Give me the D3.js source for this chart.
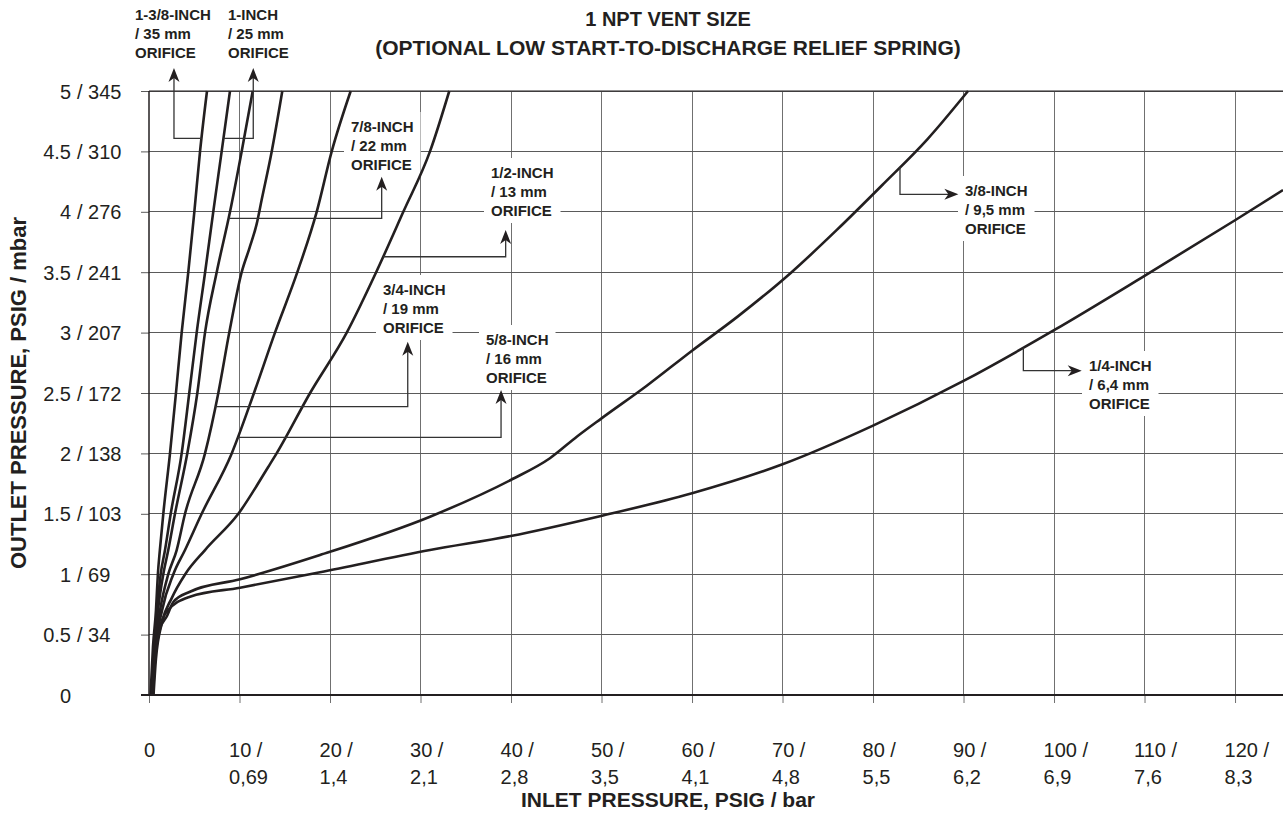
<!DOCTYPE html>
<html>
<head>
<meta charset="utf-8">
<script src="https://cdn.jsdelivr.net/npm/d3@7"></script>
<style>
  body { margin: 0; background: #fff; }
  svg { display: block; font-family: "Liberation Sans", Arial, Helvetica, sans-serif; }
</style>
</head>
<body>
<script>
// axis ticks: psig with metric companion
const inletTicks = [0, 10, 20, 30, 40, 50, 60, 70, 80, 90, 100, 110, 120];
const inletBar = ["", "0,69", "1,4", "2,1", "2,8", "3,5", "4,1", "4,8", "5,5", "6,2", "6,9", "7,6", "8,3"];
const outletTicks = [0, 0.5, 1, 1.5, 2, 2.5, 3, 3.5, 4, 4.5, 5];
const outletMbar = ["", "34", "69", "103", "138", "172", "207", "241", "276", "310", "345"];

// orifice names
const orificeInch = ["1-3/8-INCH", "1-INCH", "7/8-INCH", "3/4-INCH", "5/8-INCH", "1/2-INCH", "3/8-INCH", "1/4-INCH"];
const orificeMm = ["/ 35 mm", "/ 25 mm", "/ 22 mm", "/ 19 mm", "/ 16 mm", "/ 13 mm", "/ 9,5 mm", "/ 6,4 mm"];

// curves: [inlet psig, outlet psig]
const orifice1_3_8 = [[0.17, 0], [0.44, 0.4], [0.77, 0.7], [0.98, 1.0], [1.2, 1.2], [1.58, 1.5], [2.32, 2.0], [2.98, 2.5], [3.61, 3.0], [4.34, 3.5], [5.01, 4.0], [5.64, 4.5], [6.41, 5.0]];
const orifice1 = [[0.28, 0], [0.55, 0.4], [0.88, 0.7], [1.29, 1.0], [1.77, 1.2], [2.4, 1.5], [3.61, 2.0], [4.45, 2.5], [5.27, 3.0], [6.2, 3.5], [7.1, 4.0], [8.03, 4.5], [8.95, 5.0]];
const orifice7_8 = [[0.33, 0], [0.61, 0.4], [0.99, 0.7], [1.58, 1.0], [2.13, 1.2], [2.87, 1.5], [4.23, 2.0], [5.34, 2.5], [6.19, 3.0], [7.48, 3.5], [8.95, 4.0], [10.24, 4.5], [11.46, 5.0]];
const orifice3_4 = [[0.39, 0], [0.66, 0.4], [1.22, 0.7], [2.13, 1.0], [3.06, 1.2], [3.98, 1.5], [6.19, 2.0], [7.66, 2.5], [8.87, 3.0], [10.24, 3.5], [11.1, 3.7], [11.9, 3.9], [12.45, 4.1], [13.56, 4.5], [14.73, 5.0]];
const orifice5_8 = [[0.44, 0], [0.77, 0.4], [1.44, 0.7], [2.69, 1.0], [3.98, 1.2], [5.82, 1.5], [9.14, 2.0], [11.6, 2.5], [13.92, 3.0], [16.39, 3.5], [18.53, 4.0], [20.19, 4.5], [22.29, 5.0]];
const orifice1_2 = [[0.5, 0], [0.77, 0.3], [1.44, 0.6], [2.5, 0.8], [4.0, 1.0], [6.19, 1.2], [9.87, 1.5], [13.19, 1.89], [14.1, 2.0], [17.8, 2.5], [21.85, 3.0], [25.1, 3.5], [28.1, 4.0], [31.05, 4.5], [33.18, 5.0]];
const orifice3_8 = [[0.33, 0], [0.66, 0.3], [1.22, 0.55], [1.96, 0.65], [2.69, 0.77], [4.53, 0.855], [10.06, 0.958], [18.9, 1.159], [31.05, 1.476], [39.97, 1.78], [44.3, 1.96], [47.3, 2.14], [50, 2.29], [55, 2.56], [60, 2.85], [65, 3.13], [71, 3.5], [76, 3.85], [81, 4.22], [86, 4.6], [90.5, 5.0]];
const orifice1_4 = [[0.33, 0], [0.66, 0.317], [1.22, 0.565], [1.96, 0.69], [4.53, 0.814], [10.06, 0.888], [18.9, 1.016], [31.05, 1.2], [39.97, 1.316], [49.94, 1.482], [60, 1.67], [70, 1.91], [80, 2.23], [90, 2.6], [100, 3.02], [110, 3.47], [120, 3.93], [125.3, 4.18]];

const curves = [orifice1_3_8, orifice1, orifice7_8, orifice3_4, orifice5_8, orifice1_2, orifice3_8, orifice1_4];

const width = 1283, height = 818;
const ink = "#231f20";
const font = '"Liberation Sans", Arial, Helvetica, sans-serif';

const svg = d3.select("body").append("svg")
  .attr("width", width)
  .attr("height", height);

const x = d3.scaleLinear().domain([0, 125.3]).range([149, 1283]);
const y = d3.scaleLinear().domain([0, 5]).range([695, 91]);

// grid lines
const grid = svg.append("g").attr("shape-rendering", "crispEdges");
grid.selectAll(".vgrid")
  .data(inletTicks.slice(1))
  .enter()
  .append("line")
  .attr("x1", (d) => x(d)).attr("x2", (d) => x(d))
  .attr("y1", y(5)).attr("y2", y(0))
  .attr("stroke", "#707070");
grid.selectAll(".hgrid")
  .data(outletTicks.slice(1))
  .enter()
  .append("line")
  .attr("x1", x(0)).attr("x2", width)
  .attr("y1", (d) => y(d)).attr("y2", (d) => y(d))
  .attr("stroke", "#5a5a5a");

// bottom axis with two-line labels
const xAxis = svg.append("g")
  .attr("transform", "translate(0," + y(0) + ")")
  .call(d3.axisBottom(x).tickValues(inletTicks).tickSize(8).tickSizeOuter(0).tickFormat(""))
  .attr("font-family", font)
  .attr("text-anchor", "start");
xAxis.select(".domain").remove();
xAxis.selectAll(".tick line").attr("stroke", "#707070");
xAxis.selectAll(".tick").each(function (d, i) {
  const t = d3.select(this).append("text")
    .attr("fill", ink)
    .attr("font-size", 20)
    .attr("text-anchor", d === 0 ? "middle" : "start");
  t.append("tspan").attr("x", d === 0 ? 0 : -11).attr("y", 62).text(d === 0 ? "0" : d + " /");
  if (inletBar[i]) t.append("tspan").attr("x", -11).attr("y", 89).text(inletBar[i]);
});

// left axis with psig / mbar labels
const yAxis = svg.append("g")
  .attr("transform", "translate(" + x(0) + ",0)")
  .call(d3.axisLeft(y).tickValues(outletTicks).tickSize(8).tickSizeOuter(0).tickFormat(""))
  .attr("font-family", font);
yAxis.select(".domain").remove();
yAxis.selectAll(".tick line").attr("stroke", "#5a5a5a");
yAxis.selectAll(".tick").each(function (d, i) {
  const g = d3.select(this);
  g.append("text")
    .attr("fill", ink).attr("font-size", 20)
    .attr("text-anchor", "end")
    .attr("x", -78).attr("y", 7)
    .text(d);
  if (outletMbar[i]) {
    g.append("text")
      .attr("fill", ink).attr("font-size", 20)
      .attr("text-anchor", "start")
      .attr("x", -72).attr("y", 7)
      .text("/ " + outletMbar[i]);
  }
});

// axis frame lines
svg.append("line")
  .attr("x1", x(0)).attr("x2", x(0)).attr("y1", y(5)).attr("y2", y(0))
  .attr("stroke", ink).attr("stroke-width", 1.5);
svg.append("line")
  .attr("x1", x(0) - 8).attr("x2", width).attr("y1", y(0)).attr("y2", y(0))
  .attr("stroke", ink).attr("stroke-width", 2);
svg.append("line")
  .attr("x1", x(0)).attr("x2", width).attr("y1", y(5)).attr("y2", y(5))
  .attr("stroke", ink).attr("stroke-width", 1.2);

// helpers to find a point on a curve
const inletAt = (pts, v) => {
  for (let i = 1; i < pts.length; i++) {
    if (pts[i][1] >= v) {
      const t = (v - pts[i - 1][1]) / (pts[i][1] - pts[i - 1][1]);
      return pts[i - 1][0] + t * (pts[i][0] - pts[i - 1][0]);
    }
  }
  return pts[pts.length - 1][0];
};
const outletAt = (pts, u) => {
  for (let i = 1; i < pts.length; i++) {
    if (pts[i][0] >= u) {
      const t = (u - pts[i - 1][0]) / (pts[i][0] - pts[i - 1][0]);
      return pts[i - 1][1] + t * (pts[i][1] - pts[i - 1][1]);
    }
  }
  return pts[pts.length - 1][1];
};

// label placement (text box left / first line centre in px, leader in data units)
const labelLayout = [
  { tx: 135, ty: 15, kind: "up", at: 4.608, elbow: 2.76, tip: 5.19 },
  { tx: 228, ty: 15, kind: "up", at: 4.608, elbow: 11.52, tip: 5.19 },
  { tx: 351, ty: 127, kind: "up", at: 3.946, elbow: 25.71, tip: 4.29 },
  { tx: 383, ty: 290, kind: "up", at: 2.387, elbow: 28.59, tip: 2.925 },
  { tx: 486, ty: 340, kind: "up", at: 2.133, elbow: 38.9, tip: 2.525 },
  { tx: 491, ty: 173, kind: "up", at: 3.628, elbow: 39.41, tip: 3.849 },
  { tx: 965, ty: 191, kind: "right", at: 82.98, elbow: 4.145, tip: 89.43 },
  { tx: 1089, ty: 366, kind: "right", at: 96.61, elbow: 2.685, tip: 103.06 },
];

// label boxes (white, hiding grid) first
const labelG = svg.append("g");
const labelTexts = labelLayout.map((L, i) => {
  const t = labelG.append("text")
    .attr("fill", ink)
    .attr("font-size", 15)
    .attr("font-weight", "bold");
  [orificeInch[i], orificeMm[i], "ORIFICE"].forEach((s, k) => {
    t.append("tspan").attr("x", L.tx).attr("y", L.ty + 5 + k * 19).text(s);
  });
  return t;
});
labelTexts.forEach((t) => {
  const b = t.node().getBBox();
  labelG.insert("rect", "text")
    .attr("x", b.x - 7).attr("y", b.y - 6)
    .attr("width", b.width + 14).attr("height", b.height + 10)
    .attr("fill", "#fff");
});

// curves
svg.append("clipPath").attr("id", "plot-clip")
  .append("rect")
  .attr("x", x(0)).attr("y", y(5) - 2)
  .attr("width", width - x(0)).attr("height", y(0) - y(5) + 2);

const line = d3.line()
  .x((d) => x(d[0]))
  .y((d) => y(d[1]))
  .curve(d3.curveMonotoneX);

svg.append("g")
  .attr("clip-path", "url(#plot-clip)")
  .selectAll("path")
  .data(curves)
  .enter()
  .append("path")
  .attr("d", line)
  .attr("fill", "none")
  .attr("stroke", ink)
  .attr("stroke-width", 2.6)
  .attr("stroke-linejoin", "round");

// leaders with arrowheads
const leaderG = svg.append("g");
labelLayout.forEach((L, i) => {
  const pts = curves[i];
  let path, tipX, tipY, angle;
  if (L.kind === "up") {
    const sx = x(inletAt(pts, L.at)), sy = y(L.at);
    tipX = x(L.elbow); tipY = y(L.tip);
    path = "M" + sx + "," + sy + "H" + tipX + "V" + (tipY + 8);
    angle = 0;
  } else {
    const sx = x(L.at), sy = y(outletAt(pts, L.at));
    tipX = x(L.tip); tipY = y(L.elbow);
    path = "M" + sx + "," + sy + "V" + tipY + "H" + (tipX - 8);
    angle = 90;
  }
  leaderG.append("path")
    .attr("d", path)
    .attr("fill", "none")
    .attr("stroke", "#333")
    .attr("stroke-width", 1.3);
  leaderG.append("path")
    .attr("d", "M0,0L5.5,14L0,10L-5.5,14Z")
    .attr("transform", "translate(" + tipX + "," + tipY + ") rotate(" + angle + ")")
    .attr("fill", ink);
});

// titles
svg.append("text")
  .attr("x", 668).attr("y", 26)
  .attr("text-anchor", "middle")
  .attr("font-size", 20).attr("font-weight", "bold").attr("fill", ink)
  .text("1 NPT VENT SIZE");
svg.append("text")
  .attr("x", 668).attr("y", 55)
  .attr("text-anchor", "middle")
  .attr("font-size", 21).attr("font-weight", "bold").attr("fill", ink)
  .text("(OPTIONAL LOW START-TO-DISCHARGE RELIEF SPRING)");

svg.append("text")
  .attr("x", 668).attr("y", 807)
  .attr("text-anchor", "middle")
  .attr("font-size", 21).attr("font-weight", "bold").attr("fill", ink)
  .text("INLET PRESSURE, PSIG / bar");

svg.append("text")
  .attr("transform", "translate(26," + (y(0) + y(5)) / 2 + ") rotate(-90)")
  .attr("text-anchor", "middle")
  .attr("font-size", 22).attr("font-weight", "bold").attr("fill", ink)
  .text("OUTLET PRESSURE, PSIG / mbar");
</script>
</body>
</html>
